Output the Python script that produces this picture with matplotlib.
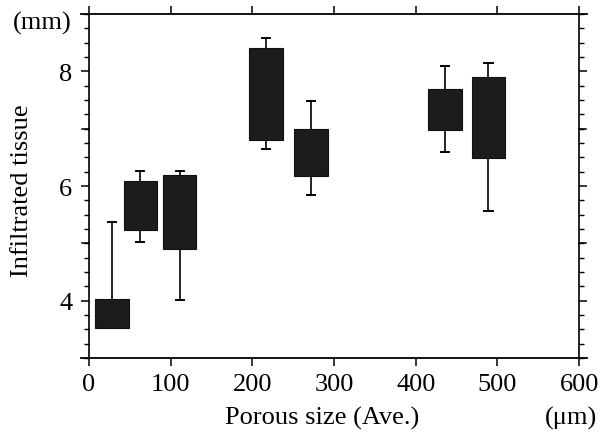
import matplotlib.pyplot as plt
import numpy as np
from matplotlib.ticker import MultipleLocator
from matplotlib.lines import Line2D

plt.rcParams['font.family'] = ['Liberation Serif', 'DejaVu Serif']

# porous size (um) and infiltrated tissue (mm)
pore = [28, 63, 111, 217, 272, 436, 489]
box_lo = [3.52, 5.24, 4.90, 6.80, 6.17, 6.98, 6.48]
box_hi = [4.03, 6.08, 6.19, 8.40, 7.00, 7.69, 7.91]
wh_lo = [None, 5.03, 4.01, 6.65, 5.84, 6.59, 5.57]
wh_hi = [5.37, 6.26, 6.27, 8.58, 7.49, 8.09, 8.15]

fig = plt.figure(figsize=(6.09, 4.35), dpi=100)
ax = fig.add_axes([0.146, 0.1747, 0.805, 0.7908])

boxw = 41
capw = 10
for i in range(len(pore)):
    x = pore[i]
    if wh_hi[i] is not None:
        ax.plot([x, x], [box_hi[i], wh_hi[i]], color='black', lw=1.2, zorder=1)
        ax.plot([x - capw/2, x + capw/2], [wh_hi[i], wh_hi[i]], color='black', lw=1.4, zorder=1)
    if wh_lo[i] is not None:
        ax.plot([x, x], [box_lo[i], wh_lo[i]], color='black', lw=1.2, zorder=1)
        ax.plot([x - capw/2, x + capw/2], [wh_lo[i], wh_lo[i]], color='black', lw=1.4, zorder=1)

heights = np.array(box_hi) - np.array(box_lo)
ax.bar(pore, heights, bottom=box_lo, width=boxw, color='#1c1c1c', edgecolor='#111111',
       linewidth=0.8, zorder=2)

ax.set_xlim(0, 600)
ax.set_ylim(3, 9)
ax.set_xticks(range(0, 601, 100))
ax.set_yticks([4, 6, 8])
ax.yaxis.set_minor_locator(MultipleLocator(0.25))

fs = 19
ax.tick_params(axis='x', which='both', direction='out', top=True, labeltop=False,
               length=5.5, width=1.1, labelsize=fs, pad=5)
ax.tick_params(axis='y', which='major', direction='out', right=True, length=6, width=1.1,
               labelsize=fs, pad=6)
ax.tick_params(axis='y', which='minor', direction='out', right=True, length=3.5, width=1.0)

# y major ticks every 1 unit without labels at odd values
for v in [5, 7]:
    ax.plot([0, -0.014], [v, v], transform=ax.get_yaxis_transform(), color='black',
            lw=1.1, clip_on=False)
    ax.plot([1, 1.014], [v, v], transform=ax.get_yaxis_transform(), color='black',
            lw=1.1, clip_on=False)

for s in ax.spines.values():
    s.set_linewidth(1.2)
ax.spines['top'].set_visible(False)
ax.spines['bottom'].set_visible(False)
for yy in [0, 1]:
    ax.add_line(Line2D([-0.016, 1.016], [yy, yy], transform=ax.transAxes, color='black',
                       lw=1.3, clip_on=False))

fig.text(0.036, 0.561, 'Infiltrated tissue', fontsize=fs, rotation=90, ha='center', va='center')
fig.text(0.529, 0.039, 'Porous size (Ave.)', fontsize=fs, ha='center', va='center')
fig.text(0.938, 0.039, '(\u03bcm)', fontsize=fs, ha='center', va='center')
fig.text(0.07, 0.945, '(mm)', fontsize=fs, ha='center', va='center')

fig.savefig('out.png', dpi=100)
